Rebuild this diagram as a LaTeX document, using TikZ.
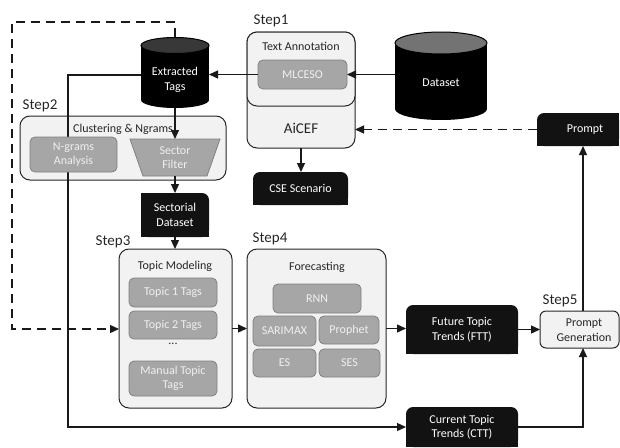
\documentclass[tikz,border=0pt]{standalone}
\usepackage{fontspec}
\setmainfont{Carlito}
\usetikzlibrary{arrows.meta,backgrounds}
\newcommand\topround[1]{%
  \fill[black!93, rounded corners=7pt] (#1.south west) rectangle (#1.north east);
  \fill[black!93] (#1.south west) rectangle ([yshift=10pt]#1.south east);}
\newcommand\trround[1]{%
  \fill[black!93, rounded corners=7pt] (#1.south west) rectangle (#1.north east);
  \fill[black!93] (#1.south west) rectangle ([xshift=-10pt]#1.north east);
  \fill[black!93] (#1.south west) rectangle ([yshift=10pt]#1.south east);}
\newcommand\tlround[1]{%
  \fill[black!93, rounded corners=7pt] (#1.south west) rectangle (#1.north east);
  \fill[black!93] ([xshift=10pt]#1.north west) rectangle (#1.south east);
  \fill[black!93] (#1.south west) rectangle ([yshift=10pt]#1.south east);}
\begin{document}
\begin{tikzpicture}[x=1pt,y=-1pt,
  txt/.style={font=\fontsize{12}{14.5}\selectfont, align=center, inner sep=0pt},
  panel/.style={draw=black!85, fill=black!5, rounded corners=10pt, line width=1pt, inner sep=0pt, outer sep=0pt},
  gbox/.style={txt, draw=black!50, fill=black!35, rounded corners=5pt, text=white!94!black, line width=0.8pt, outer sep=0pt},
  bbox/.style={txt, text=white, outer sep=0pt},
  anchorbox/.style={inner sep=0pt, outer sep=0pt},
  wtxt/.style={txt, text=white},
  title/.style={txt, text=black!85},
  steplbl/.style={font=\fontsize{15}{17}\selectfont, text=black!85, inner sep=0pt},
  arr/.style={line width=1.3pt, draw=black!90, -{Triangle[length=9pt,width=8pt]}},
  darr/.style={arr, dash pattern=on 9pt off 6pt}
]
\useasboundingbox (0,0) rectangle (620,447);

% ---------- black boxes (text; fills on background layer) ----------
\node[bbox, minimum width=95pt, minimum height=33pt] (cse) at (300.5,188.5) {CSE Scenario};
\node[bbox, minimum width=82pt, minimum height=33pt] (prompt) at (578,129.5) {};
\node[wtxt] (promptt) at (585,130) {Prompt};
\node[bbox, minimum width=68pt, minimum height=44pt] (sd) at (175,215) {Sectorial\\Dataset};
\node[bbox, minimum width=112pt, minimum height=49pt] (ftt) at (462,329.5) {Future Topic\\Trends (FTT)};
\node[bbox, minimum width=112pt, minimum height=40pt] (ctt) at (462,427) {Current Topic\\Trends (CTT)};
\begin{scope}[on background layer]
  \topround{cse}
  \tlround{prompt}
  \trround{sd}
  \topround{ftt}
  \topround{ctt}
\end{scope}

% ---------- Step 1: AiCEF ----------
\node[steplbl] (s1) at (271,21) {Step1};
\node[panel, minimum width=108pt, minimum height=116pt] (aicef) at (301,90) {};
\node[panel, minimum width=108pt, minimum height=74pt] (ta) at (301,69) {};
\node[title] (tat) at (301,46) {Text Annotation};
\node[font=\fontsize{15}{17}\selectfont, text=black!85, inner sep=0pt] (aiceft) at (301,128) {AiCEF};
\node[gbox, minimum width=89pt, minimum height=29pt] (ml) at (302.5,74.5) {MLCESO};

% Dataset cylinder
\fill[black] (395,43) rectangle (487,109);
\fill[black] (441,109) ellipse [x radius=46pt, y radius=11pt];
\filldraw[fill=black!55, draw=black, line width=1pt] (441,43) ellipse [x radius=46pt, y radius=11pt];
\node[anchorbox, minimum width=92pt, minimum height=88pt] (ds) at (441,76) {};
\node[wtxt] (dst) at (441,83) {Dataset};

% Extracted Tags cylinder
\fill[black] (141,45.5) rectangle (209,100);
\fill[black] (175,100) ellipse [x radius=34pt, y radius=8pt];
\filldraw[fill=black!78, draw=black, line width=1pt] (175,45.5) ellipse [x radius=34pt, y radius=8pt];
\node[anchorbox, minimum width=68pt, minimum height=71pt] (et) at (175,72.5) {};
\node[wtxt] (ett) at (175,80) {Extracted\\Tags};

% ---------- Step 2: Clustering ----------
\node[steplbl] (s2) at (40,106) {Step2};
\node[panel, minimum width=206pt, minimum height=64pt] (cl) at (123,148) {};
\node[title] (clt) at (123,129) {Clustering \& Ngrams};

% long connector on top of the panel, under the N-grams box
\coordinate (l1) at (68,75);
\coordinate (l2) at (68,427);
\draw[arr] (et.west |- l1) -- (l1) -- (l2) -- (l2 -| ctt.west);

\node[gbox, minimum width=87pt, minimum height=35pt] (ng) at (73.5,154.5) {N-grams\\Analysis};
\node[anchorbox, minimum width=90pt, minimum height=37pt] (sf) at (175,157.5) {};
\filldraw[fill=black!35, draw=black!50, line width=0.8pt]
  (sf.north west) -- (sf.north east) -- ([xshift=-13pt]sf.south east) -- ([xshift=13pt]sf.south west) -- cycle;
\node[txt, text=white!94!black] (sft) at (sf.center) {Sector\\Filter};

% ---------- Step 3: Topic Modeling ----------
\node[steplbl] (s3) at (113,242) {Step3};
\node[panel, minimum width=113pt, minimum height=159pt] (tm) at (175.5,328.5) {};
\node[title] (tmt) at (175,266) {Topic Modeling};
\node[gbox, minimum width=88pt, minimum height=29pt] (t1) at (173,292.5) {Topic 1 Tags};
\node[gbox, minimum width=88pt, minimum height=28pt] (t2) at (173,325) {Topic 2 Tags};
\node[title] (dots) at (173,344) {...};
\node[gbox, minimum width=88pt, minimum height=35pt] (mt) at (173,378.5) {Manual Topic\\Tags};

% ---------- Step 4: Forecasting ----------
\node[steplbl] (s4) at (270,239) {Step4};
\node[panel, minimum width=139pt, minimum height=159pt] (fc) at (316.5,328.5) {};
\node[title] (fct) at (317,267) {Forecasting};
\node[gbox, minimum width=88pt, minimum height=29pt] (rnn) at (317,298.5) {RNN};
\node[gbox, minimum width=63pt, minimum height=30pt] (sar) at (284.5,331) {SARIMAX};
\node[gbox, minimum width=60pt, minimum height=28pt] (pro) at (349,330) {Prophet};
\node[gbox, minimum width=63pt, minimum height=28pt] (es) at (284.5,363) {ES};
\node[gbox, minimum width=61pt, minimum height=28pt] (ses) at (349.5,363) {SES};

% ---------- Step 5 ----------
\node[steplbl] (s5) at (560,301) {Step5};
\node[panel, rounded corners=6pt, minimum width=79pt, minimum height=37pt] (pg) at (579.5,329.5) {};
\node[title] (pgt) at (584,330) {Prompt\\Generation};

% ---------- connectors ----------
\coordinate (d0) at (175,22);
\coordinate (d1) at (12,22);
\coordinate (d2) at (12,329);
\coordinate (pp) at (583,0);

\draw[darr] (et.north) -- (d0) -- (d1) -- (d2) -- (d2 -| tm.west);
\draw[arr] (ml.east -| ds.west) -- (ml.east);
\draw[arr] (ml.west) -- (ml.west -| et.east);
\draw[arr] (et.south) -- (sf.north);
\draw[arr] (sf.south) -- (sd.north);
\draw[arr] (sd.south) -- (sd.south |- tm.north);
\draw[arr] (aicef.south) -- (aicef.south |- cse.north);
\draw[darr] (prompt.west) -- (prompt.west -| aicef.east);
\draw[arr] (pg.north -| pp) -- (prompt.south -| pp);
\draw[arr] (tm.east) -- (tm.east -| fc.west);
\draw[arr] (fc.east) -- (fc.east -| ftt.west);
\draw[arr] (ftt.east) -- (ftt.east -| pg.west);
\draw[arr] (ctt.east) -- (ctt.east -| pp) -- (pg.south -| pp);
\end{tikzpicture}
\end{document}
